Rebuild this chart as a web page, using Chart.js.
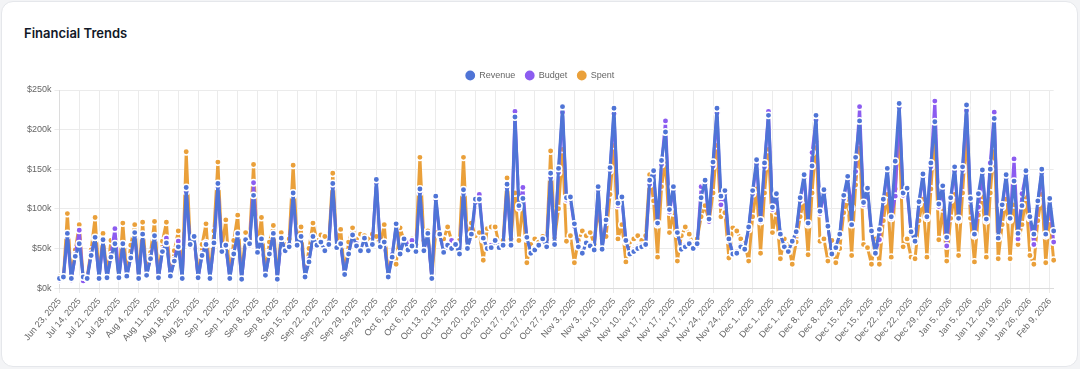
<!DOCTYPE html>
<html>
<head>
<meta charset="utf-8">
<title>Financial Trends</title>
<script src="https://cdn.jsdelivr.net/npm/chart.js@4.4.0/dist/chart.umd.min.js"></script>
<style>
  html, body { margin: 0; padding: 0; background: #f3f4f6; }
  .card {
    position: absolute; left: 1px; top: 1px; width: 1077px; height: 366px;
    box-sizing: border-box; background: #fff;
    border: 1px solid #e5e7eb; border-radius: 12px;
  }
  .card h2 {
    position: absolute; left: 22px; top: 23px; margin: 0;
    font: 600 13px/16px Inter, sans-serif; color: #111827;
  }
  .chart-wrap { position: absolute; left: 21px; top: 59px; width: 1038px; height: 286px; }
</style>
</head>
<body>
<div class="card">
  <h2>Financial Trends</h2>
  <div class="chart-wrap"><canvas id="trends"></canvas></div>
</div>
<script>
// week labels the x axis ends up showing (one for every 5th day)
const tickLabels = [
  'Jun 23, 2025', 'Jul 14, 2025', 'Jul 21, 2025', 'Jul 28, 2025', 'Aug 4, 2025', 'Aug 11, 2025',
  'Aug 18, 2025', 'Aug 25, 2025', 'Sep 1, 2025', 'Sep 1, 2025', 'Sep 8, 2025', 'Sep 8, 2025',
  'Sep 15, 2025', 'Sep 22, 2025', 'Sep 22, 2025', 'Sep 29, 2025', 'Sep 29, 2025', 'Oct 6, 2025',
  'Oct 6, 2025', 'Oct 13, 2025', 'Oct 13, 2025', 'Oct 20, 2025', 'Oct 20, 2025', 'Oct 27, 2025',
  'Oct 27, 2025', 'Oct 27, 2025', 'Nov 3, 2025', 'Nov 3, 2025', 'Nov 10, 2025', 'Nov 10, 2025',
  'Nov 17, 2025', 'Nov 17, 2025', 'Nov 17, 2025', 'Nov 24, 2025', 'Nov 24, 2025', 'Dec 1, 2025',
  'Dec 1, 2025', 'Dec 1, 2025', 'Dec 8, 2025', 'Dec 8, 2025', 'Dec 15, 2025', 'Dec 15, 2025',
  'Dec 22, 2025', 'Dec 22, 2025', 'Dec 29, 2025', 'Jan 5, 2026', 'Jan 5, 2026', 'Jan 12, 2026',
  'Jan 19, 2026', 'Jan 26, 2026', 'Feb 9, 2026'
];

// values in $k
const revenue = [
  12, 14, 69, 12, 40, 56, 14, 12, 41, 64, 12, 61,
  13, 39, 56, 13, 56, 15, 38, 70, 12, 68, 16, 37,
  66, 13, 46, 57, 15, 34, 52, 12, 127, 55, 65, 13,
  41, 55, 12, 57, 132, 46, 54, 12, 43, 69, 11, 61,
  56, 117, 45, 62, 16, 43, 69, 11, 63, 47, 52, 120,
  54, 65, 14, 33, 65, 54, 58, 47, 55, 132, 51, 56,
  17, 43, 67, 53, 47, 63, 47, 55, 137, 52, 58, 14,
  39, 81, 43, 62, 48, 53, 46, 125, 47, 69, 12, 116,
  68, 45, 54, 50, 55, 43, 124, 50, 68, 112, 112, 63,
  50, 51, 60, 51, 54, 131, 54, 216, 104, 113, 64, 44,
  48, 54, 62, 52, 145, 55, 151, 229, 114, 115, 81, 52,
  44, 57, 53, 48, 128, 49, 86, 152, 227, 107, 115, 60,
  43, 46, 50, 52, 55, 136, 148, 82, 161, 197, 99, 128,
  70, 49, 52, 56, 50, 56, 114, 136, 87, 159, 227, 116,
  123, 62, 43, 44, 52, 49, 77, 123, 162, 86, 158, 218,
  102, 119, 68, 52, 46, 59, 71, 114, 143, 82, 154, 218,
  97, 124, 78, 43, 51, 68, 117, 141, 80, 165, 211, 108,
  126, 72, 44, 74, 112, 151, 90, 160, 233, 120, 126, 71,
  59, 109, 144, 90, 158, 210, 106, 129, 64, 114, 153, 88,
  153, 231, 113, 68, 119, 149, 87, 150, 214, 63, 105, 143,
  88, 135, 69, 104, 148, 90, 68, 110, 150, 68, 113, 72
];

const budget = [
  10, 13, 66, 10, 42, 73, 9, 12, 44, 62, 13, 58,
  12, 42, 75, 14, 54, 14, 40, 67, 13, 66, 15, 40,
  63, 12, 48, 63, 14, 36, 59, 13, 122, 53, 62, 12,
  43, 57, 13, 55, 128, 48, 52, 13, 45, 66, 12, 58,
  54, 133, 47, 60, 15, 45, 67, 12, 60, 49, 55, 117,
  52, 62, 15, 36, 62, 56, 56, 50, 53, 128, 53, 54,
  16, 45, 64, 56, 50, 60, 49, 57, 133, 54, 56, 15,
  42, 78, 45, 60, 58, 60, 48, 121, 49, 66, 13, 112,
  66, 48, 52, 60, 56, 45, 120, 52, 66, 108, 118, 61,
  52, 54, 58, 53, 52, 127, 56, 223, 101, 127, 62, 46,
  50, 52, 60, 55, 140, 58, 146, 222, 111, 112, 78, 54,
  46, 55, 55, 50, 124, 51, 83, 148, 220, 104, 112, 58,
  45, 48, 52, 54, 53, 131, 143, 80, 156, 211, 96, 124,
  68, 51, 54, 58, 52, 54, 128, 132, 84, 154, 221, 105,
  119, 60, 45, 46, 54, 51, 74, 119, 157, 84, 153, 223,
  99, 115, 66, 54, 48, 57, 69, 110, 139, 80, 171, 212,
  94, 120, 76, 45, 53, 66, 113, 137, 101, 147, 229, 105,
  122, 70, 46, 61, 109, 147, 88, 116, 228, 117, 122, 69,
  61, 106, 140, 88, 153, 236, 103, 125, 53, 111, 148, 86,
  149, 224, 110, 66, 102, 145, 85, 158, 222, 65, 102, 139,
  86, 163, 62, 119, 144, 88, 55, 107, 146, 66, 110, 58
];

const spent = [
  14, 12, 94, 14, 48, 80, 12, 14, 48, 89, 14, 69,
  15, 60, 62, 14, 82, 16, 54, 80, 13, 83, 18, 45,
  84, 14, 59, 83, 17, 47, 72, 13, 172, 58, 63, 15,
  55, 81, 14, 72, 159, 50, 86, 14, 60, 92, 13, 70,
  62, 156, 50, 89, 18, 58, 79, 13, 70, 55, 62, 155,
  58, 77, 16, 50, 82, 60, 67, 65, 58, 145, 55, 74,
  18, 58, 76, 62, 68, 66, 62, 68, 65, 55, 80, 18,
  40, 30, 76, 60, 58, 62, 55, 165, 60, 72, 14, 70,
  68, 62, 77, 60, 58, 60, 165, 60, 82, 66, 70, 35,
  75, 77, 77, 55, 60, 139, 62, 120, 60, 105, 32, 55,
  62, 58, 65, 60, 173, 62, 100, 175, 59, 66, 32, 60,
  72, 66, 70, 55, 100, 62, 65, 118, 180, 62, 80, 33,
  58, 62, 66, 60, 66, 143, 110, 39, 128, 160, 70, 95,
  34, 66, 77, 68, 55, 62, 90, 104, 84, 120, 180, 90,
  95, 38, 76, 72, 62, 56, 34, 90, 125, 44, 120, 175,
  70, 95, 37, 62, 55, 30, 58, 90, 112, 42, 120, 185,
  59, 62, 34, 60, 32, 50, 95, 112, 41, 130, 184, 55,
  51, 30, 62, 30, 85, 118, 39, 125, 195, 52, 62, 39,
  37, 85, 112, 39, 125, 193, 61, 100, 34, 88, 118, 41,
  120, 195, 88, 33, 92, 115, 39, 120, 180, 37, 80, 112,
  37, 105, 55, 80, 115, 41, 30, 85, 118, 32, 88, 35
];

const yTicks = [0, 50, 100, 150, 200, 250];

// one category per day, labelled with its week
const labels = revenue.map((_, i) => tickLabels[Math.floor(i / 5)]);

function series(label, data, color) {
  return {
    label: label,
    data: data,
    borderColor: color,
    backgroundColor: color,
    borderWidth: 3,
    borderJoinStyle: 'round',
    borderCapStyle: 'round',
    pointRadius: 3.2,
    pointBackgroundColor: color,
    pointBorderColor: '#fff',
    pointBorderWidth: 1.5,
    tension: 0,
    fill: false
  };
}

new Chart(document.getElementById('trends'), {
  type: 'line',
  data: {
    labels: labels,
    datasets: [
      series('Revenue', revenue, '#4f74d6'),
      series('Budget', budget, '#8c5cf0'),
      series('Spent', spent, '#eaa03a')
    ]
  },
  options: {
    responsive: true,
    maintainAspectRatio: false,
    animation: false,
    layout: { padding: { right: 4 } },
    plugins: {
      legend: {
        position: 'top',
        labels: {
          usePointStyle: true,
          boxHeight: 8,
          padding: 10,
          color: '#666',
          font: { size: 9 }
        }
      },
      tooltip: { enabled: false }
    },
    scales: {
      x: {
        grid: { color: '#ebebeb', tickLength: 5 },
        border: { color: '#dcdcdc' },
        ticks: {
          color: '#666',
          font: { size: 9 },
          maxRotation: 50,
          minRotation: 50,
          autoSkip: true,
          maxTicksLimit: 51
        }
      },
      y: {
        min: yTicks[0],
        max: yTicks[yTicks.length - 1],
        grid: { color: '#ebebeb', tickLength: 5 },
        border: { color: '#dcdcdc' },
        afterBuildTicks: (axis) => { axis.ticks = yTicks.map(v => ({ value: v })); },
        ticks: {
          color: '#666',
          font: { size: 9 },
          callback: (v) => '$' + v + 'k'
        }
      }
    }
  }
});
</script>
</body>
</html>
